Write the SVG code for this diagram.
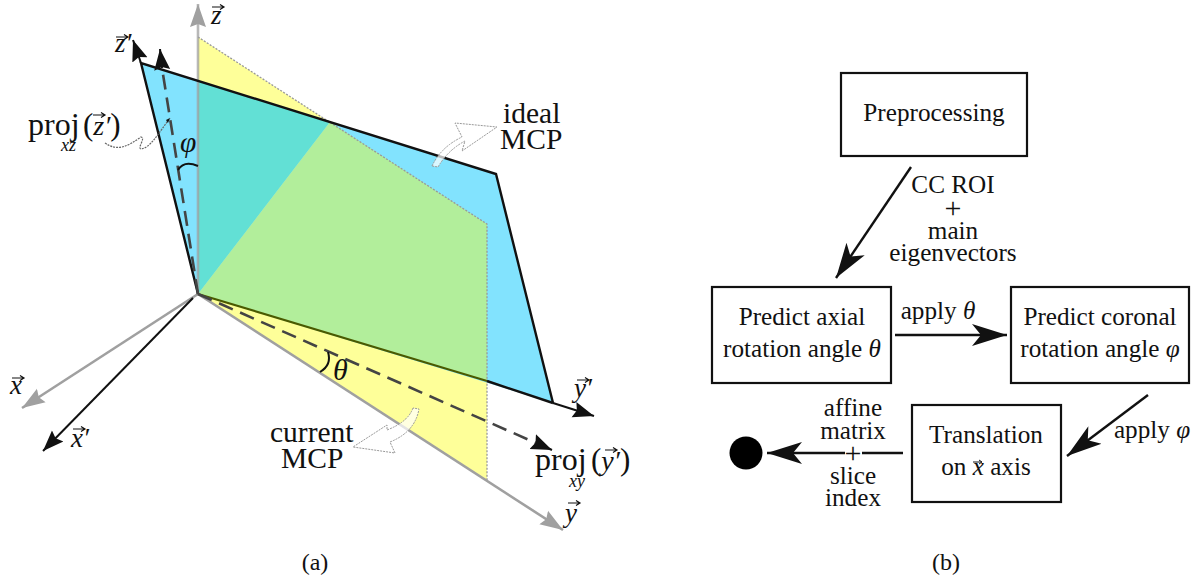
<svg xmlns="http://www.w3.org/2000/svg" width="1193" height="579" viewBox="0 0 1193 579">
<style>
text{font-family:"Liberation Serif","DejaVu Serif",serif;fill:#111}
.b{font-size:25.2px;text-anchor:middle}
.p{font-size:30px;text-anchor:middle}
.a{font-size:29.5px}
.v{font-size:27px;font-style:italic}
.i{font-style:italic}
.cap{font-size:24px;text-anchor:middle}
.box{fill:#fff;stroke:#111;stroke-width:2.2}
.conn{fill:none;stroke:#111;stroke-width:2.4}
.ax{fill:none;stroke:#a0a0a0;stroke-width:2.6}
.blk{fill:none;stroke:#111;stroke-width:2}
.edge{fill:none;stroke:#111;stroke-width:2.4}
.dash{fill:none;stroke:#444;stroke-width:2.6;stroke-dasharray:15 8}
.dot{fill:none;stroke:#999;stroke-width:1.3;stroke-dasharray:2 1.5}
.call{stroke:#999;stroke-width:1;stroke-dasharray:2 1}
</style>
<defs>
<marker id="big" markerUnits="userSpaceOnUse" markerWidth="36" markerHeight="24" refX="35" refY="12" orient="auto"><path d="M35 12L0 1L9 12L0 23Z" fill="#111"/></marker>
<marker id="gr" markerUnits="userSpaceOnUse" markerWidth="24" markerHeight="18" refX="23" refY="9" orient="auto"><path d="M23 9L0 1L3 9L0 17Z" fill="#a0a0a0"/></marker>
<marker id="sm" markerUnits="userSpaceOnUse" markerWidth="22" markerHeight="18" refX="21" refY="9" orient="auto"><path d="M21 9L0 1L3 9L0 17Z" fill="#111"/></marker>
<path id="vec" d="M0 0H11M8 -2.5L12 0L8 2.5" fill="none" stroke="#111" stroke-width="1.2"/>
<path id="vecs" d="M0 0H8M6 -2L9 0L6 2" fill="none" stroke="#111" stroke-width="1"/>
</defs>
<g id="planes">
<polygon points="198,37 487,224 487,480 198,294" fill="#feff99"/>
<polygon points="141,63 496,174 553,403 198,294" fill="#82e3fe"/>
<polygon points="198,81 330,122 198,294" fill="#62e0d5"/>
<polygon points="198,294 330,122 487,224 487,381" fill="#b2ee9b"/>
<path class="dot" d="M198 37L487 224V480"/>
</g>
<g id="connectors">
<path class="ax" d="M198 294V4" marker-end="url(#gr)" stroke-opacity=".75"/>
<path class="ax" d="M198 294L22 408" marker-end="url(#gr)"/>
<path class="ax" d="M198 294L563 530" marker-end="url(#gr)"/>
<path class="blk" d="M193 298L43 451" marker-end="url(#sm)"/>
<path class="edge" d="M198 294L141 63L496 174L553 403" />
<path d="M198 294L487 381" fill="none" stroke="#4a5a00" stroke-width="2.2"/>
<path class="edge" d="M487 381L553 403"/>
<path class="blk" d="M553 403L594 416" marker-end="url(#sm)"/>
<path class="blk" d="M141 63L133 40" marker-end="url(#sm)"/>
<path class="blk" d="M162 68L160 49" marker-end="url(#sm)"/>
<path class="dash" d="M198 294L162 68"/>
<path class="dash" d="M198 294L536 443"/>
<path class="blk" d="M536 443L552 450" marker-end="url(#sm)"/>
<path class="blk" d="M178 170Q184 160 198 166"/>
<path class="blk" d="M320 372Q332 365 328 352"/>
<path d="M105 143C118 152 128 146 141 137C146 138 137 148 141 149C150 148 158 134 170 118" fill="none" stroke="#666" stroke-width="1.2" stroke-dasharray="2 1"/>
<polygon points="170,118 166,120 168,123" fill="#111"/>
<path class="call" d="M432 166Q441 147 462 137L455 123L497 127L462 151L465 141Q448 150 438 167Z" fill="#fff" fill-opacity=".7"/>
<path class="call" d="M413 408Q408 422 387 430L387 425L353 447L395 453L390 442Q415 432 419 409Z" fill="#fff" fill-opacity=".7"/>
<path class="conn" d="M911 167L836 278" marker-end="url(#big)"/>
<path class="conn" d="M895 335H1007" marker-end="url(#big)"/>
<path class="conn" d="M1148 395L1067 456" marker-end="url(#big)"/>
<path class="conn" d="M845 453H767" marker-end="url(#big)"/>
<path class="conn" d="M903 453H862"/>
</g>
<g id="labels-a">
<text class="v" x="211" y="24">z</text><use href="#vec" x="212" y="7"/>
<text class="v" x="115" y="52">z′</text><use href="#vec" x="116" y="37"/>
<text x="28" y="135" font-size="32">proj</text>
<text x="61" y="151" font-size="18" class="i">xz</text>
<text x="83" y="135" font-size="31">(<tspan class="i" font-size="28">z′</tspan>)</text><use href="#vec" x="93" y="115"/>
<text class="a i" x="180" y="152">φ</text>
<text class="a" x="503" y="123">ideal</text>
<text class="a" x="500" y="149">MCP</text>
<text class="a" x="270" y="442">current</text>
<text class="a" x="281" y="468">MCP</text>
<text x="333" y="380" font-size="30" class="i">θ</text>
<text class="v" x="10" y="394">x</text><use href="#vec" x="12" y="378"/>
<text class="v" x="71" y="447">x′</text><use href="#vec" x="73" y="429"/>
<text class="v" x="574" y="397">y′</text><use href="#vec" x="577" y="380"/>
<text class="v" x="565" y="522">y</text><use href="#vec" x="568" y="503"/>
<text x="535" y="470" font-size="32">proj</text>
<text x="569" y="487" font-size="18" class="i">xy</text>
<text x="591" y="470" font-size="31">(<tspan class="i" font-size="28">y′</tspan>)</text><use href="#vec" x="605" y="450"/>
<text class="cap" x="315" y="570">(a)</text>
</g>
<g id="preprocessing"><rect class="box" x="841" y="73" width="186" height="83"/><text class="b" x="934" y="121">Preprocessing</text></g>
<g id="axial"><rect class="box" x="712" y="287" width="179" height="96"/><text class="b" x="802" y="325">Predict axial</text><text class="b" x="802" y="357">rotation angle <tspan class="i">θ</tspan></text></g>
<g id="coronal"><rect class="box" x="1011" y="287" width="178" height="96"/><text class="b" x="1100" y="325">Predict coronal</text><text class="b" x="1100" y="357">rotation angle <tspan class="i">φ</tspan></text></g>
<g id="translation"><rect class="box" x="912" y="405" width="149" height="97"/><text class="b" x="986" y="443">Translation</text><text class="b" x="986" y="475">on <tspan class="i">x</tspan> axis</text><use href="#vecs" x="973" y="462"/></g>
<g id="end"><circle cx="746" cy="453" r="16.5" fill="#000"/></g>
<g id="labels-b">
<text class="b" x="953" y="193">CC ROI</text>
<text class="p" x="953" y="218">+</text>
<text class="b" x="953" y="239">main</text>
<text class="b" x="953" y="261">eigenvectors</text>
<text class="b" x="938" y="319">apply <tspan class="i">θ</tspan></text>
<text class="b" x="1152" y="438">apply <tspan class="i">φ</tspan></text>
<text class="b" x="853" y="416">affine</text>
<text class="b" x="853" y="439">matrix</text>
<text class="p" x="853" y="463">+</text>
<text class="b" x="853" y="484">slice</text>
<text class="b" x="853" y="506">index</text>
<text class="cap" x="946" y="570">(b)</text>
</g>
</svg>
